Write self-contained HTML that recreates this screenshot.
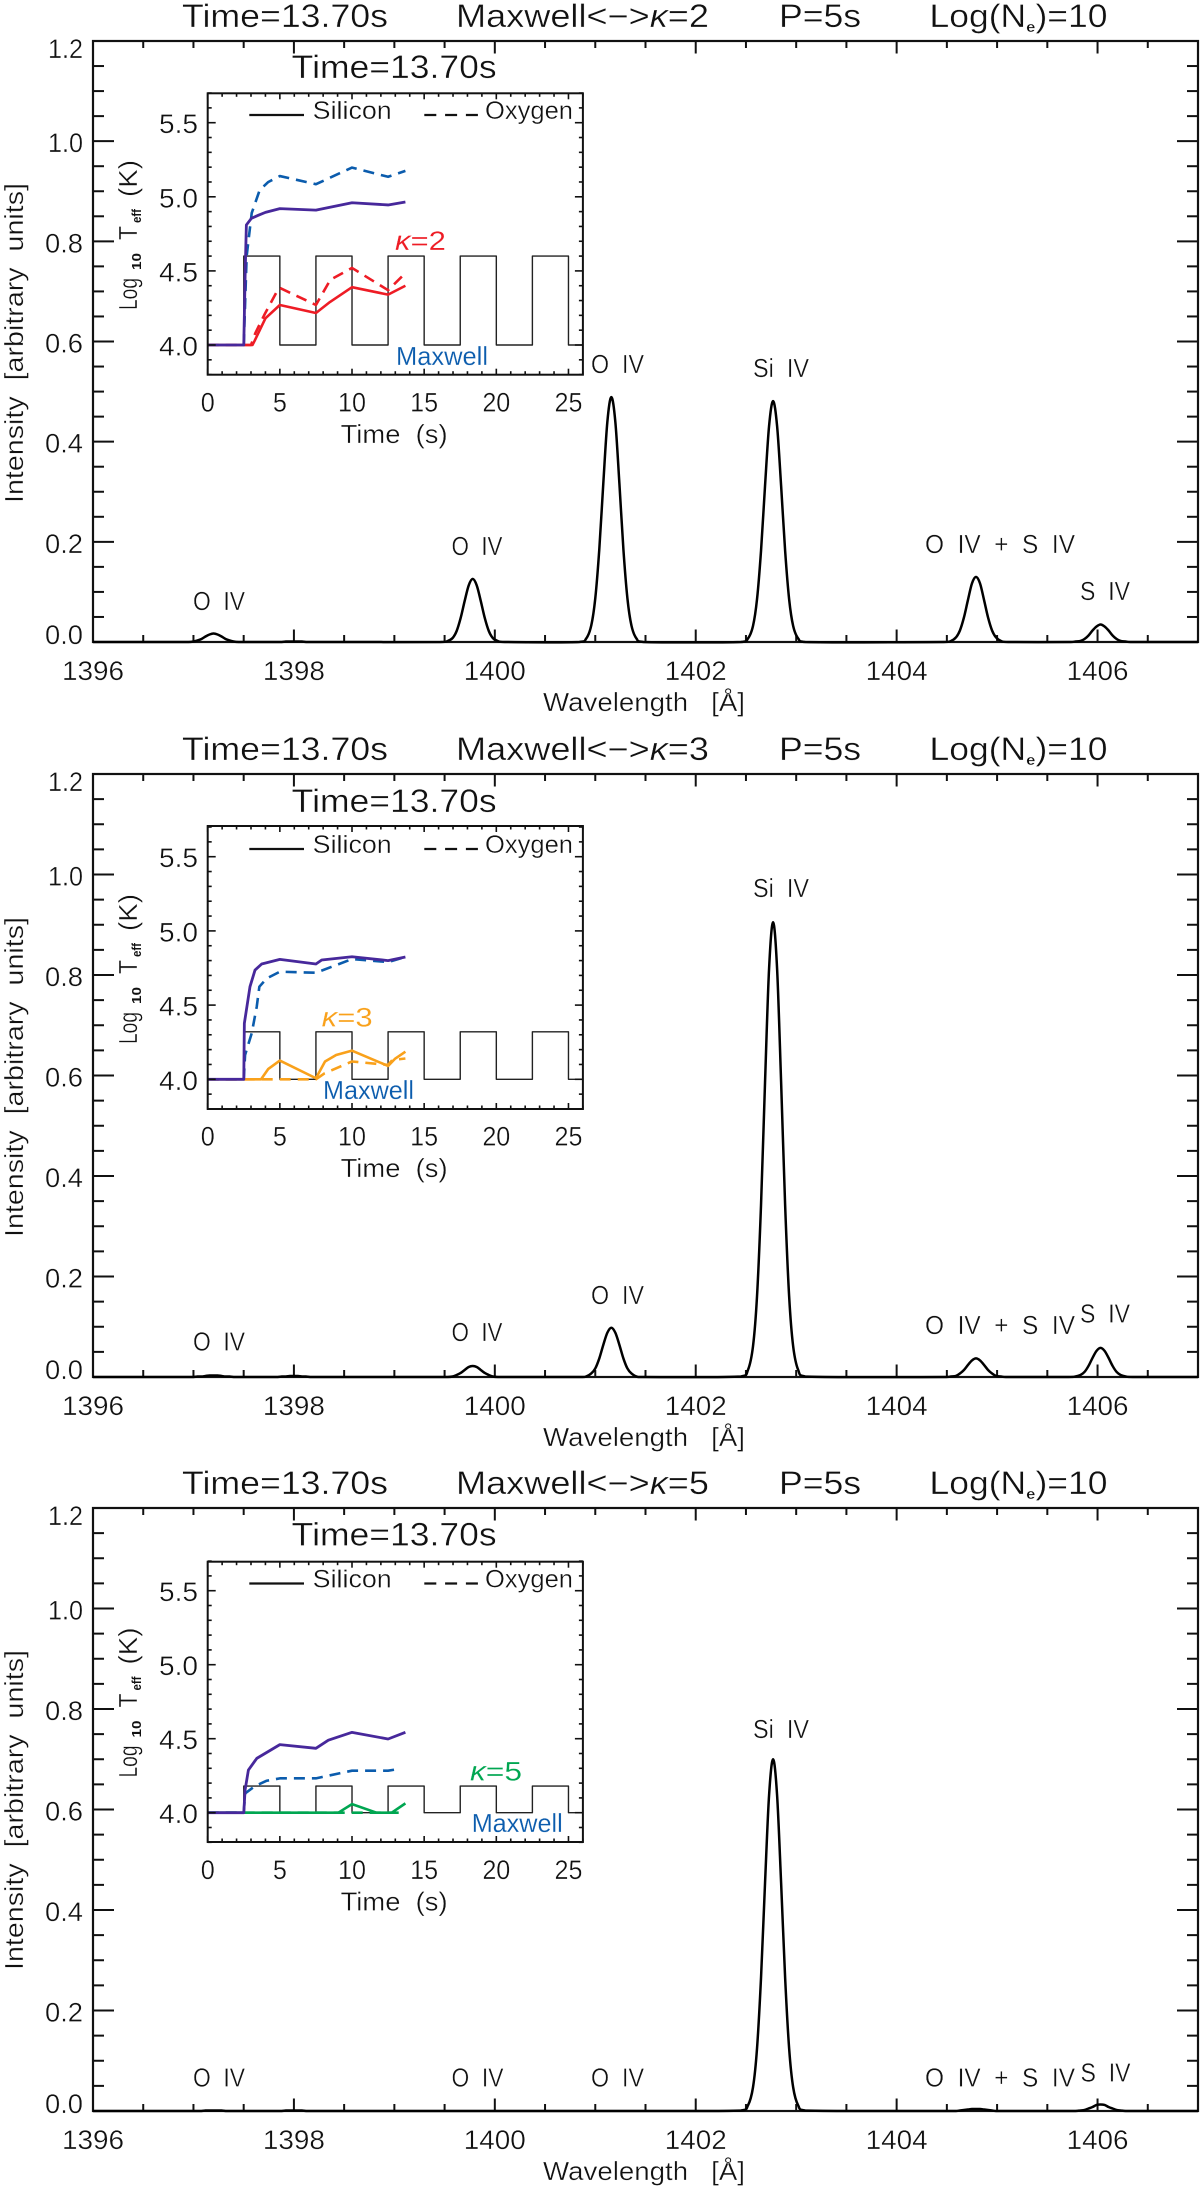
<!DOCTYPE html>
<html lang="en">
<head>
<meta charset="utf-8">
<title>Synthetic spectra panels</title>
<style>
html,body{margin:0;padding:0;background:#fff;}
svg{display:block;}
text{font-family:"Liberation Sans","DejaVu Sans",sans-serif;fill:#111;white-space:pre;stroke:#fff;stroke-width:.35px;}
.title{font-size:32px;}
.tick{font-size:27px;}
.axt{font-size:26px;}
.ion{font-size:26px;}
.leg{font-size:25px;}
.sub{font-size:13px;font-weight:bold;stroke-width:0;}
.blue{fill:#0b5cad;font-size:26px;stroke-width:.15px;}
.kap{font-size:27px;stroke-width:.15px;}
</style>
</head>
<body>
<svg id="figure" xmlns="http://www.w3.org/2000/svg" width="1200" height="2188" viewBox="0 0 1200 2188">
<rect x="0" y="0" width="1200" height="2188" fill="#fff"/>

<g id="panel-1">
  <g>
    <text class="title" x="182" y="27" textLength="206" lengthAdjust="spacingAndGlyphs">Time=13.70s</text>
    <text class="title" x="456" y="27" textLength="253" lengthAdjust="spacingAndGlyphs">Maxwell&lt;−&gt;<tspan font-style="italic">κ</tspan>=2</text>
    <text class="title" x="779" y="27" textLength="82" lengthAdjust="spacingAndGlyphs">P=5s</text>
    <text class="title" x="929.5" y="27" textLength="178" lengthAdjust="spacingAndGlyphs">Log(N<tspan font-size="15" font-weight="bold" dy="5">e</tspan><tspan dy="-5">)=10</tspan></text>
  </g>
  <text class="axt" x="543" y="711" textLength="202" lengthAdjust="spacingAndGlyphs">Wavelength   [Å]</text>
  <text class="axt" transform="rotate(-90 23 503)" x="23" y="503" textLength="320" lengthAdjust="spacingAndGlyphs">Intensity  [arbitrary  units]</text>
  <g>
    <text class="ion" x="193" y="610" textLength="52" lengthAdjust="spacingAndGlyphs">O  IV</text>
    <text class="ion" x="451.5" y="555" textLength="51" lengthAdjust="spacingAndGlyphs">O  IV</text>
    <text class="ion" x="591" y="373" textLength="53" lengthAdjust="spacingAndGlyphs">O  IV</text>
    <text class="ion" x="753" y="377" textLength="56" lengthAdjust="spacingAndGlyphs">Si  IV</text>
    <text class="ion" x="925" y="553" textLength="150" lengthAdjust="spacingAndGlyphs">O  IV  +  S  IV</text>
    <text class="ion" x="1080" y="600" textLength="50" lengthAdjust="spacingAndGlyphs">S  IV</text>
  </g>
  <g>
    <text class="title" x="291.7" y="78" textLength="205" lengthAdjust="spacingAndGlyphs">Time=13.70s</text>
    <text class="leg" x="312.7" y="119" textLength="79" lengthAdjust="spacingAndGlyphs">Silicon</text>
    <text class="leg" x="485" y="119" textLength="88" lengthAdjust="spacingAndGlyphs">Oxygen</text>
    <line x1="249.3" y1="115" x2="304" y2="115" stroke="#111" stroke-width="2.2"/>
    <line x1="424.3" y1="115" x2="478" y2="115" stroke="#111" stroke-width="2.2" stroke-dasharray="12 8.8"/>
    <text class="axt" x="340.6" y="443" textLength="107" lengthAdjust="spacingAndGlyphs">Time  (s)</text>
    <text class="axt" transform="rotate(-90 137 310)" x="137" y="310" textLength="32" lengthAdjust="spacingAndGlyphs">Log</text>
    <text class="sub" transform="rotate(-90 141 270)" x="141" y="270" textLength="17" lengthAdjust="spacingAndGlyphs">10</text>
    <text class="axt" transform="rotate(-90 137 240)" x="137" y="240" textLength="14" lengthAdjust="spacingAndGlyphs">T</text>
    <text class="sub" transform="rotate(-90 141 223)" x="141" y="223" textLength="14" lengthAdjust="spacingAndGlyphs">eff</text>
    <text class="axt" transform="rotate(-90 137 197)" x="137" y="197" textLength="37" lengthAdjust="spacingAndGlyphs">(K)</text>
    <text class="kap" style="fill:#ee1c25" x="395" y="250" textLength="51" lengthAdjust="spacingAndGlyphs"><tspan font-style="italic">κ</tspan>=2</text>
    <text class="blue" x="396" y="365" textLength="92" lengthAdjust="spacingAndGlyphs">Maxwell</text>
  </g>
</g>

<g id="panel-2">
  <g>
    <text class="title" x="182" y="760" textLength="206" lengthAdjust="spacingAndGlyphs">Time=13.70s</text>
    <text class="title" x="456" y="760" textLength="253" lengthAdjust="spacingAndGlyphs">Maxwell&lt;−&gt;<tspan font-style="italic">κ</tspan>=3</text>
    <text class="title" x="779" y="760" textLength="82" lengthAdjust="spacingAndGlyphs">P=5s</text>
    <text class="title" x="929.5" y="760" textLength="178" lengthAdjust="spacingAndGlyphs">Log(N<tspan font-size="15" font-weight="bold" dy="5">e</tspan><tspan dy="-5">)=10</tspan></text>
  </g>
  <text class="axt" x="543" y="1446" textLength="202" lengthAdjust="spacingAndGlyphs">Wavelength   [Å]</text>
  <text class="axt" transform="rotate(-90 23 1237)" x="23" y="1237" textLength="320" lengthAdjust="spacingAndGlyphs">Intensity  [arbitrary  units]</text>
  <g>
    <text class="ion" x="193" y="1350.7" textLength="52" lengthAdjust="spacingAndGlyphs">O  IV</text>
    <text class="ion" x="451.5" y="1341" textLength="51" lengthAdjust="spacingAndGlyphs">O  IV</text>
    <text class="ion" x="591" y="1304" textLength="53" lengthAdjust="spacingAndGlyphs">O  IV</text>
    <text class="ion" x="753" y="897" textLength="56" lengthAdjust="spacingAndGlyphs">Si  IV</text>
    <text class="ion" x="925" y="1334" textLength="150" lengthAdjust="spacingAndGlyphs">O  IV  +  S  IV</text>
    <text class="ion" x="1080" y="1322.5" textLength="50" lengthAdjust="spacingAndGlyphs">S  IV</text>
  </g>
  <g transform="translate(0,734)">
    <text class="title" x="291.7" y="78" textLength="205" lengthAdjust="spacingAndGlyphs">Time=13.70s</text>
    <text class="leg" x="312.7" y="119" textLength="79" lengthAdjust="spacingAndGlyphs">Silicon</text>
    <text class="leg" x="485" y="119" textLength="88" lengthAdjust="spacingAndGlyphs">Oxygen</text>
    <line x1="249.3" y1="115" x2="304" y2="115" stroke="#111" stroke-width="2.2"/>
    <line x1="424.3" y1="115" x2="478" y2="115" stroke="#111" stroke-width="2.2" stroke-dasharray="12 8.8"/>
    <text class="axt" x="340.6" y="443" textLength="107" lengthAdjust="spacingAndGlyphs">Time  (s)</text>
    <text class="axt" transform="rotate(-90 137 310)" x="137" y="310" textLength="32" lengthAdjust="spacingAndGlyphs">Log</text>
    <text class="sub" transform="rotate(-90 141 270)" x="141" y="270" textLength="17" lengthAdjust="spacingAndGlyphs">10</text>
    <text class="axt" transform="rotate(-90 137 240)" x="137" y="240" textLength="14" lengthAdjust="spacingAndGlyphs">T</text>
    <text class="sub" transform="rotate(-90 141 223)" x="141" y="223" textLength="14" lengthAdjust="spacingAndGlyphs">eff</text>
    <text class="axt" transform="rotate(-90 137 197)" x="137" y="197" textLength="37" lengthAdjust="spacingAndGlyphs">(K)</text>
    <text class="kap" style="fill:#f9a11b" x="321.7" y="292.7" textLength="51" lengthAdjust="spacingAndGlyphs"><tspan font-style="italic">κ</tspan>=3</text>
    <text class="blue" x="323" y="365" textLength="91" lengthAdjust="spacingAndGlyphs">Maxwell</text>
  </g>
</g>

<g id="panel-3">
  <g>
    <text class="title" x="182" y="1494" textLength="206" lengthAdjust="spacingAndGlyphs">Time=13.70s</text>
    <text class="title" x="456" y="1494" textLength="253" lengthAdjust="spacingAndGlyphs">Maxwell&lt;−&gt;<tspan font-style="italic">κ</tspan>=5</text>
    <text class="title" x="779" y="1494" textLength="82" lengthAdjust="spacingAndGlyphs">P=5s</text>
    <text class="title" x="929.5" y="1494" textLength="178" lengthAdjust="spacingAndGlyphs">Log(N<tspan font-size="15" font-weight="bold" dy="5">e</tspan><tspan dy="-5">)=10</tspan></text>
  </g>
  <text class="axt" x="543" y="2180" textLength="202" lengthAdjust="spacingAndGlyphs">Wavelength   [Å]</text>
  <text class="axt" transform="rotate(-90 23 1970)" x="23" y="1970" textLength="320" lengthAdjust="spacingAndGlyphs">Intensity  [arbitrary  units]</text>
  <g>
    <text class="ion" x="193" y="2086.7" textLength="52" lengthAdjust="spacingAndGlyphs">O  IV</text>
    <text class="ion" x="451.5" y="2086.7" textLength="52" lengthAdjust="spacingAndGlyphs">O  IV</text>
    <text class="ion" x="591" y="2086.7" textLength="53" lengthAdjust="spacingAndGlyphs">O  IV</text>
    <text class="ion" x="753" y="1738" textLength="56" lengthAdjust="spacingAndGlyphs">Si  IV</text>
    <text class="ion" x="925" y="2086.7" textLength="150" lengthAdjust="spacingAndGlyphs">O  IV  +  S  IV</text>
    <text class="ion" x="1080.5" y="2081.7" textLength="50" lengthAdjust="spacingAndGlyphs">S  IV</text>
  </g>
  <g transform="translate(0,1467.5)">
    <text class="title" x="291.7" y="78" textLength="205" lengthAdjust="spacingAndGlyphs">Time=13.70s</text>
    <text class="leg" x="312.7" y="120" textLength="79" lengthAdjust="spacingAndGlyphs">Silicon</text>
    <text class="leg" x="485" y="120" textLength="88" lengthAdjust="spacingAndGlyphs">Oxygen</text>
    <line x1="249.3" y1="116" x2="304" y2="116" stroke="#111" stroke-width="2.2"/>
    <line x1="424.3" y1="116" x2="478" y2="116" stroke="#111" stroke-width="2.2" stroke-dasharray="12 8.8"/>
    <text class="axt" x="340.6" y="443" textLength="107" lengthAdjust="spacingAndGlyphs">Time  (s)</text>
    <text class="axt" transform="rotate(-90 137 310)" x="137" y="310" textLength="32" lengthAdjust="spacingAndGlyphs">Log</text>
    <text class="sub" transform="rotate(-90 141 270)" x="141" y="270" textLength="17" lengthAdjust="spacingAndGlyphs">10</text>
    <text class="axt" transform="rotate(-90 137 240)" x="137" y="240" textLength="14" lengthAdjust="spacingAndGlyphs">T</text>
    <text class="sub" transform="rotate(-90 141 223)" x="141" y="223" textLength="14" lengthAdjust="spacingAndGlyphs">eff</text>
    <text class="axt" transform="rotate(-90 137 197)" x="137" y="197" textLength="37" lengthAdjust="spacingAndGlyphs">(K)</text>
    <text class="kap" style="fill:#00a651" x="470" y="313" textLength="52" lengthAdjust="spacingAndGlyphs"><tspan font-style="italic">κ</tspan>=5</text>
    <text class="blue" x="471.7" y="364.5" textLength="91" lengthAdjust="spacingAndGlyphs">Maxwell</text>
  </g>
</g>
</svg>

<script>
// ---------- Spectrum data ----------
const lineCentres = [1397.2, 1398.0, 1399.78, 1401.16, 1402.77, 1404.79, 1406.03];
const profileOffsets = [-0.32, -0.25, -0.2, -0.16, -0.12, -0.08, -0.04, 0, 0.04, 0.08, 0.12, 0.16, 0.2, 0.25, 0.32];
const intensityK2 = [
  [0,0,.001,.003,.006,.011,.015,.017,.015,.011,.006,.003,.001,0,0],
  [0,0,0,0,0,.001,.001,.001,.001,.001,0,0,0,0,0],
  [0,.002,.008,.022,.048,.082,.113,.126,.113,.082,.048,.022,.008,.002,0],
  [0,.007,.033,.087,.185,.317,.439,.489,.439,.317,.185,.087,.033,.007,0],
  [0,.007,.032,.085,.182,.312,.431,.481,.431,.312,.182,.085,.032,.007,0],
  [0,.002,.009,.023,.049,.084,.117,.130,.117,.084,.049,.023,.009,.002,0],
  [0,.001,.002,.006,.013,.023,.031,.035,.031,.023,.013,.006,.002,.001,0]
];
const intensityK3 = [
  [0,0,0,.001,.001,.002,.003,.003,.003,.002,.001,.001,0,0,0],
  [0,0,0,0,.001,.001,.002,.002,.002,.001,.001,0,0,0,0],
  [0,0,.001,.004,.008,.014,.020,.022,.020,.014,.008,.004,.001,0,0],
  [0,.001,.007,.017,.037,.064,.088,.098,.088,.064,.037,.017,.007,.001,0],
  [.001,.014,.061,.160,.342,.587,.812,.905,.812,.587,.342,.160,.061,.014,.001],
  [0,.001,.002,.007,.014,.024,.033,.037,.033,.024,.014,.007,.002,.001,0],
  [0,.001,.004,.010,.022,.038,.052,.058,.052,.038,.022,.010,.004,.001,0]
];
const intensityK5 = [
  [0,0,0,0,0,.001,.001,.001,.001,.001,0,0,0,0,0],
  [0,0,0,0,0,.001,.001,.001,.001,.001,0,0,0,0,0],
  [0,0,0,0,0,0,0,0,0,0,0,0,0,0,0],
  [0,0,0,0,0,0,0,0,0,0,0,0,0,0,0],
  [.001,.011,.047,.124,.265,.454,.628,.700,.628,.454,.265,.124,.047,.011,.001],
  [0,0,0,.001,.002,.003,.004,.004,.004,.003,.002,.001,0,0,0],
  [0,0,.001,.002,.005,.008,.012,.013,.012,.008,.005,.002,.001,0,0]
];
const wavelengthTickLabels = ['1396', '1398', '1400', '1402', '1404', '1406'];
const intensityTickLabels = ['0.0', '0.2', '0.4', '0.6', '0.8', '1.0', '1.2'];

// ---------- Inset data ----------
const pulseTime = [0,2.5,2.5,5,5,7.5,7.5,10,10,12.5,12.5,15,15,17.5,17.5,20,20,22.5,22.5,25,25,26];
const pulseK2 = [4,4,4.6,4.6,4,4,4.6,4.6,4,4,4.6,4.6,4,4,4.6,4.6,4,4,4.6,4.6,4,4];
const pulseK3 = [4,4,4.32,4.32,4,4,4.32,4.32,4,4,4.32,4.32,4,4,4.32,4.32,4,4,4.32,4.32,4,4];
const pulseK5 = [4,4,4.18,4.18,4,4,4.18,4.18,4,4,4.18,4.18,4,4,4.18,4.18,4,4,4.18,4.18,4,4];

const maxwellSiTimeK2 = [0,2.5,2.6,2.68,3.03,3.5,4,5,7.5,10,12.5,13.7];
const maxwellSiTempK2 = [4,4,4.5,4.81,4.855,4.875,4.895,4.92,4.91,4.96,4.945,4.965];
const maxwellOTimeK2 = [0,2.5,2.7,3.05,3.6,4.2,5,7.5,10,12.5,13.7];
const maxwellOTempK2 = [4,4,4.6,4.89,5.045,5.1,5.14,5.085,5.197,5.135,5.175];
const kappaSiTimeK2 = [0,2.5,3.1,3.26,4,5,7.5,8.47,10,12.5,13.7];
const kappaSiTempK2 = [4,4,4,4.03,4.18,4.27,4.216,4.29,4.39,4.34,4.40];
const kappaOTimeK2 = [0,2.5,3,3.3,3.96,4.9,5,7.5,8.5,10,12.5,13.7];
const kappaOTempK2 = [4,4,4,4.08,4.21,4.38,4.385,4.27,4.44,4.52,4.37,4.485];

const maxwellSiTimeK3 = [0,2.5,2.54,2.93,3.28,3.74,5,7.5,7.9,10,12.5,13.7];
const maxwellSiTempK3 = [4,4,4.377,4.624,4.736,4.777,4.808,4.777,4.804,4.826,4.8,4.824];
const maxwellOTimeK3 = [0,2.5,2.59,3.05,3.4,3.58,4.09,5,7.5,10,12.5,13.7];
const maxwellOTempK3 = [4,4,4.164,4.31,4.49,4.624,4.68,4.725,4.718,4.81,4.79,4.824];
const kappaSiTimeK3 = [0,2.5,3.7,4.2,5,7.5,8.13,8.9,10,12.5,13,13.7];
const kappaSiTempK3 = [4,4,4,4.07,4.126,4.007,4.12,4.164,4.193,4.09,4.14,4.186];
const kappaOTimeK3 = [0,2.5,7.5,8.1,10,12.5,12.8,13.7];
const kappaOTempK3 = [4,4,4,4.04,4.12,4.097,4.13,4.14];

const maxwellSiTimeK5 = [0,2.5,2.59,2.82,3.4,5,7.5,8.36,10,12.5,13.7];
const maxwellSiTempK5 = [4,4,4.153,4.288,4.367,4.46,4.435,4.49,4.543,4.498,4.543];
const maxwellOTimeK5 = [0,2.5,2.59,3.28,4.09,5,7.5,10,12.5,13.25];
const maxwellOTempK5 = [4,4,4.13,4.18,4.216,4.232,4.232,4.284,4.284,4.295];
const kappaSiTimeK5 = [0,2.5,9.05,10,11.7,12.75,13.7];
const kappaSiTempK5 = [4,4,4,4.058,4,4,4.063];
const kappaOTimeK5 = [0,2.5,13.3];
const kappaOTempK5 = [4,4,4];

const insetTimeTickLabels = ['0', '5', '10', '15', '20', '25'];
const insetTempTickLabels = ['4.0', '4.5', '5.0', '5.5'];

// ---------- Layout ----------
const NS = 'http://www.w3.org/2000/svg';
const PLOT_LEFT = 93, PLOT_RIGHT = 1198;
const INSET_LEFT = 207.7, INSET_RIGHT = 582.9;
const W_MIN = 1396, W_MAX = 1407;
const T_MAX = 26;
const X_AXIS_GAP = 38;

function xWave(w) { return PLOT_LEFT + (w - W_MIN) / (W_MAX - W_MIN) * (PLOT_RIGHT - PLOT_LEFT); }
function xTime(t) { return INSET_LEFT + t / T_MAX * (INSET_RIGHT - INSET_LEFT); }
function makeYIntensity(top, bottom) { return function (v) { return bottom - v / 1.2 * (bottom - top); }; }
function makeYTemp(y4, perDex) { return function (v) { return y4 - (v - 4) * perDex; }; }

function svgEl(parent, tag, attrs) {
  const el = document.createElementNS(NS, tag);
  for (const k in attrs) el.setAttribute(k, attrs[k]);
  parent.appendChild(el);
  return el;
}
function addTick(parent, x1, y1, x2, y2, width) {
  const el = svgEl(parent, 'line', { x1: x1, y1: y1, x2: x2, y2: y2, stroke: '#111', 'stroke-width': width });
  
  
}
function addLabel(parent, str, x, y, len) {
  const el = svgEl(parent, 'text', { x: x, y: y, class: 'tick', textLength: len, lengthAdjust: 'spacingAndGlyphs' });
  el.textContent = str;
  
  
}
function addSeries(parent, xs, ys, xFn, yFn, color, width, dash, name) {
  const pts = xs.map(function (x, i) { return xFn(x).toFixed(2) + ',' + yFn(ys[i]).toFixed(2); }).join(' ');
  const el = svgEl(parent, 'polyline', { points: pts, fill: 'none', stroke: color, 'stroke-width': width, 'stroke-linejoin': 'round' });
  if (dash) el.setAttribute('stroke-dasharray', dash);
  
  
}
function addSmoothLine(parent, xs, ys, xFn, yFn, color, width, name) {
  const px = xs.map(xFn), py = ys.map(yFn);
  const n = px.length;
  let d = 'M' + px[0].toFixed(2) + ' ' + py[0].toFixed(2);
  for (let i = 0; i < n - 1; i++) {
    const a = Math.max(i - 1, 0), b = Math.min(i + 2, n - 1);
    const c1x = Math.min(px[i + 1], px[i] + (px[i + 1] - px[a]) / 6);
    const c1y = py[i] + (py[i + 1] - py[a]) / 6;
    const c2x = Math.max(px[i], px[i + 1] - (px[b] - px[i]) / 6);
    const c2y = py[i + 1] - (py[b] - py[i]) / 6;
    d += 'C' + c1x.toFixed(2) + ' ' + c1y.toFixed(2) + ' ' + c2x.toFixed(2) + ' ' + c2y.toFixed(2) + ' ' + px[i + 1].toFixed(2) + ' ' + py[i + 1].toFixed(2);
  }
  const el = svgEl(parent, 'path', { d: d, fill: 'none', stroke: color, 'stroke-width': width, 'stroke-linejoin': 'round' });
  
  
}

function drawMainPlot(group, top, bottom, spectrum) {
  const y = makeYIntensity(top, bottom);
  const g = svgEl(group, 'g', {});
  
  

  for (let i = 0; i <= 24; i++) {
    const v = i * 0.05, major = i % 4 === 0, len = major ? 21 : 11;
    addTick(g, PLOT_LEFT, y(v), PLOT_LEFT + len, y(v), 2);
    addTick(g, PLOT_RIGHT, y(v), PLOT_RIGHT - len, y(v), 2);
  }
  for (let i = 0; i <= 22; i++) {
    const w = W_MIN + i * 0.5, major = i % 4 === 0, len = major ? 12.5 : 7;
    addTick(g, xWave(w), top, xWave(w), top + len, 2);
    addTick(g, xWave(w), bottom, xWave(w), bottom - len, 2);
  }
  intensityTickLabels.forEach(function (s, i) {
    const v = parseFloat(s);
    const shift = i === 0 ? 2 : (i === intensityTickLabels.length - 1 ? 17 : 11);
    const len = s.charAt(0) === '1' ? 35 : 38;
    addLabel(g, s, 83 - len, y(v) + shift, len);
  });
  wavelengthTickLabels.forEach(function (s) {
    addLabel(g, s, xWave(parseFloat(s)) - 31, bottom + X_AXIS_GAP, 62);
  });

  const frame = svgEl(g, 'rect', { x: PLOT_LEFT, y: top, width: PLOT_RIGHT - PLOT_LEFT, height: bottom - top, fill: 'none', stroke: '#111', 'stroke-width': 2.2 });
  
  

  const waves = [W_MIN], vals = [0];
  lineCentres.forEach(function (c, i) {
    profileOffsets.forEach(function (d, j) {
      waves.push(c + d);
      vals.push(spectrum[i][j]);
    });
  });
  waves.push(W_MAX);
  vals.push(0);
  addSmoothLine(g, waves, vals, xWave, y, '#000', 2.5, 'spectrum-line');
}

function drawInset(group, frameTop, frameBottom, y4, perDex, series, tickDy) {
  const y = makeYTemp(y4, perDex);
  const g = svgEl(group, 'g', {});
  
  

  addSeries(g, pulseTime, series.pulse, xTime, y, '#222', 1.4, null, 'heating-pulse');
  addSeries(g, series.ot, series.ov, xTime, y, '#0b5cad', 2.6, '11 7', 'maxwell-oxygen');
  addSeries(g, series.kot, series.kov, xTime, y, series.color, 2.6, '11 7', 'kappa-oxygen');
  addSeries(g, series.kst, series.ksv, xTime, y, series.color, 2.6, null, 'kappa-silicon');
  addSeries(g, series.st, series.sv, xTime, y, '#47289b', 2.8, null, 'maxwell-silicon');

  for (let t = 0; t <= T_MAX; t++) {
    const len = t % 5 === 0 ? 6 : 3.5;
    addTick(g, xTime(t), frameTop, xTime(t), frameTop + len, 1.6);
    addTick(g, xTime(t), frameBottom, xTime(t), frameBottom - len, 1.6);
  }
  for (let i = -2; i <= 17; i++) {
    const v = 4 + i * 0.1, len = i % 5 === 0 ? 8 : 4;
    addTick(g, INSET_LEFT, y(v), INSET_LEFT + len, y(v), 1.6);
    addTick(g, INSET_RIGHT, y(v), INSET_RIGHT - len, y(v), 1.6);
  }
  insetTimeTickLabels.forEach(function (s) {
    const len = s.length === 1 ? 14 : 28;
    addLabel(g, s, xTime(parseFloat(s)) - len / 2, 411.7 + tickDy, len);
  });
  insetTempTickLabels.forEach(function (s) {
    addLabel(g, s, 159, y(parseFloat(s)) + 10.5, 39);
  });

  const frame = svgEl(g, 'rect', { x: INSET_LEFT, y: frameTop, width: INSET_RIGHT - INSET_LEFT, height: frameBottom - frameTop, fill: 'none', stroke: '#111', 'stroke-width': 2 });
  
  
}

drawMainPlot(document.getElementById('panel-1'), 41, 642, intensityK2);
drawMainPlot(document.getElementById('panel-2'), 774, 1377, intensityK3);
drawMainPlot(document.getElementById('panel-3'), 1508, 2111, intensityK5);

drawInset(document.getElementById('panel-1'), 93.3, 374.7, 345, 148.2, {
  pulse: pulseK2, color: '#ee1c25',
  st: maxwellSiTimeK2, sv: maxwellSiTempK2, ot: maxwellOTimeK2, ov: maxwellOTempK2,
  kst: kappaSiTimeK2, ksv: kappaSiTempK2, kot: kappaOTimeK2, kov: kappaOTempK2
}, 0);
drawInset(document.getElementById('panel-2'), 826, 1109, 1079.3, 148.4, {
  pulse: pulseK3, color: '#f9a11b',
  st: maxwellSiTimeK3, sv: maxwellSiTempK3, ot: maxwellOTimeK3, ov: maxwellOTempK3,
  kst: kappaSiTimeK3, ksv: kappaSiTempK3, kot: kappaOTimeK3, kov: kappaOTempK3
}, 734);
drawInset(document.getElementById('panel-3'), 1561.7, 1842, 1812.7, 148, {
  pulse: pulseK5, color: '#00a651',
  st: maxwellSiTimeK5, sv: maxwellSiTempK5, ot: maxwellOTimeK5, ov: maxwellOTempK5,
  kst: kappaSiTimeK5, ksv: kappaSiTempK5, kot: kappaOTimeK5, kov: kappaOTempK5
}, 1467.5);
</script>
</body>
</html>
